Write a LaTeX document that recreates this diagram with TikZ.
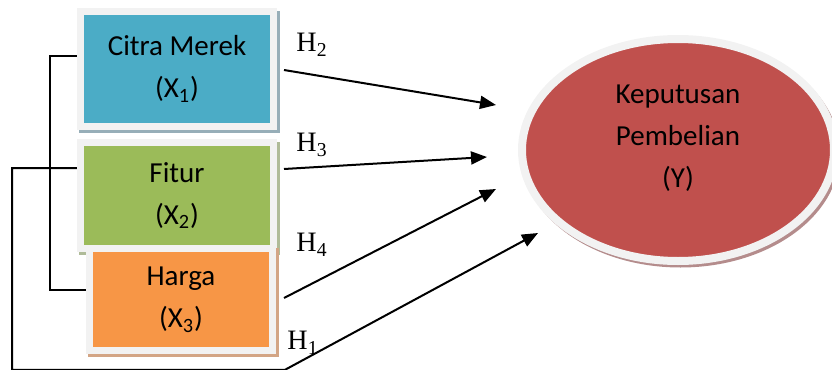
\documentclass[tikz,border=0pt]{standalone}
\usepackage{fontspec}
\setmainfont{Carlito}
\newfontfamily\hfont{Liberation Serif}
\usepackage{tikz}
\usetikzlibrary{arrows.meta,shapes.geometric,calc}

\definecolor{citra}{HTML}{4BACC6}
\definecolor{fitur}{HTML}{9BBB59}
\definecolor{harga}{HTML}{F79646}
\definecolor{kepu}{HTML}{C0504D}
\definecolor{rim}{HTML}{F2F2F2}
\definecolor{citrash}{HTML}{97AEB8}
\definecolor{fitursh}{HTML}{AFBB98}
\definecolor{hargash}{HTML}{D3A585}
\definecolor{kepush}{HTML}{B48C8C}

\tikzset{
	varbox/.style={draw=rim, line width=1.4mm, fill=#1, align=center, inner sep=0pt,
		font=\fontsize{16.5}{24}\selectfont},
	boxshadow/.style={preaction={draw=#1, fill=#1, line width=1.4mm,
		transform canvas={xshift=0.5mm,yshift=-0.6mm}}},
	link/.style={line width=0.4mm},
	hyp/.style={line width=0.4mm, -{Triangle[length=3.2mm,width=2.6mm]}},
	hlabel/.style={font=\hfont\fontsize{16}{18}\selectfont, inner sep=0pt}
}

\begin{document}
\begin{tikzpicture}[x=0.2mm,y=-0.2mm]
\useasboundingbox (0,0) rectangle (832,370);

% dependent variable
\node[ellipse, draw=rim, line width=1.6mm, fill=kepu, inner sep=0pt,
	minimum width=62.4mm, minimum height=44.4mm, boxshadow=kepush] (kp) at (678,150) {};
\node[align=center, font=\fontsize{16.5}{24}\selectfont] (kptext) at ($(kp)+(0,-12)$)
	{Keputusan\\Pembelian\\(Y)};

% independent variables
\node[varbox=citra, boxshadow=citrash, minimum width=38.6mm, minimum height=23mm] (x1) at (177,69)
	{Citra Merek\\(X\textsubscript{1})};
\node[varbox=fitur, boxshadow=fitursh, minimum width=38.6mm, minimum height=21.2mm] (x2) at (177,195.5)
	{Fitur\\(X\textsubscript{2})};
\node[varbox=harga, boxshadow=hargash, minimum width=36.6mm, minimum height=20.4mm] (x3) at (181,299.5)
	{Harga\\(X\textsubscript{3})};

% arrow ends
\coordinate (t2) at (496,105);
\coordinate (t3) at (487,157);
\coordinate (t4) at (496,189);
\coordinate (t1) at (538,233);
\coordinate (lowbend) at (285,369.8);

% correlation lines on the left
\draw[link] ($(x1.west)+(0,-13)$) -- ++(-27,0) |- ($(x3.west)+(0,-9.5)$);
\draw[hyp] ($(x2.west)+(0,-27.5)$) -| ($(lowbend)+(-273,0)$) -- (lowbend) -- (t1);

% hypotheses
\draw[hyp] ($(x1.east)+(7,1)$) -- (t2);
\draw[hyp] ($(x2.east)+(7,-26.5)$) -- (t3);
\draw[hyp] ($(x3.east)+(8,-1.5)$) -- (t4);

\node[hlabel] (h2) at (312,45) {H\textsubscript{2}};
\node[hlabel] (h3) at (312,145) {H\textsubscript{3}};
\node[hlabel] (h4) at (312,245) {H\textsubscript{4}};
\node[hlabel] (h1) at (303,343) {H\textsubscript{1}};
\end{tikzpicture}
\end{document}
